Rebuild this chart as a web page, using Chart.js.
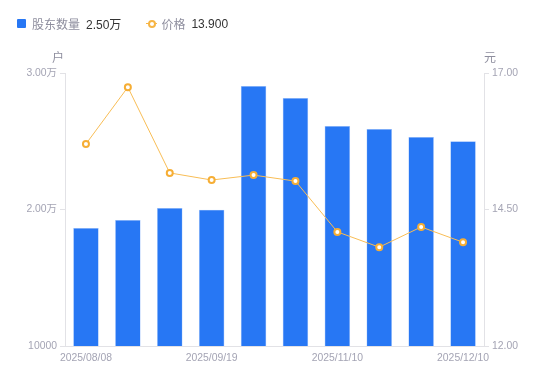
<!DOCTYPE html>
<html>
<head>
<meta charset="utf-8">
<script src="https://cdn.jsdelivr.net/npm/chart.js@4/dist/chart.umd.min.js"></script>
<style>
  html, body { margin: 0; padding: 0; background: #fff; }
  #wrap { position: relative; width: 550px; height: 381px; }
  #legend { position: absolute; left: 17px; top: 15px; font: 12px "Liberation Sans", "Noto Sans CJK SC", sans-serif; color: #8e8e9e; display: flex; align-items: center; }
  #legend .item { display: flex; align-items: center; margin-right: 25px; }
  #legend .val { color: #333; margin-left: 6px; }
  .sq { width: 9px; height: 9px; background: #2777f4; border-radius: 1px; margin-right: 6px; }
  .ln { position: relative; width: 11px; height: 9px; margin-right: 4px; }
  .ln:before { content: ""; position: absolute; left: 0; right: 0; top: 4px; height: 1px; background: #f6b545; }
  .ln:after { content: ""; position: absolute; left: 2px; top: 1px; width: 4px; height: 4px; border: 2px solid #f6b545; border-radius: 50%; background: #fff; }
</style>
</head>
<body>
<div id="wrap">
  <canvas id="chart" width="550" height="381"></canvas>
  <div id="legend">
    <div class="item"><span class="sq"></span>股东数量<span class="val">2.50万</span></div>
    <div class="item"><span class="ln"></span>价格<span class="val">13.900</span></div>
  </div>
</div>
<script>
const dates = ['2025/08/08', '2025/08/22', '2025/09/05', '2025/09/19', '2025/09/30',
               '2025/10/20', '2025/11/10', '2025/11/20', '2025/11/30', '2025/12/10']
const holders = [18650, 19230, 20110, 19990, 29050, 28170, 26120, 25900, 25310, 25000]
const prices = [15.70, 16.74, 15.17, 15.04, 15.13, 15.02, 14.09, 13.81, 14.18, 13.90]
const shownDates = ['2025/08/08', '2025/09/19', '2025/11/10', '2025/12/10']

const tickColor = '#a4a4b4'
const axisColor = '#e2e2e6'
const font = { family: '"Liberation Sans", "Noto Sans CJK SC", sans-serif', size: 10.4 }

const axisTitles = {
    id: 'axisTitles',
    afterDraw(chart) {
        const c = chart.ctx
        c.save()
        c.font = '12px "Noto Sans CJK SC", sans-serif'
        c.fillStyle = '#8e8e9e'
        c.textAlign = 'center'
        c.textBaseline = 'middle'
        c.fillText('户', 58, 57)
        c.fillText('元', 490, 57)
        c.restore()
    }
}

const ctx = document.getElementById('chart').getContext('2d')
new Chart(ctx, {
    data: {
        labels: dates,
        datasets: [{
            type: 'line',
            data: prices,
            yAxisID: 'y1',
            borderColor: '#f8bd55',
            borderWidth: 1,
            pointRadius: 3,
            pointBorderWidth: 2,
            pointBorderColor: '#f6ae35',
            pointBackgroundColor: '#ffffff',
            tension: 0,
            order: 0
        }, {
            type: 'bar',
            data: holders,
            yAxisID: 'y',
            backgroundColor: '#2777f4',
            borderColor: '#a8c8fb',
            borderWidth: 0.6,
            barPercentage: 0.61,
            categoryPercentage: 1,
            order: 1
        }]
    },
    options: {
        responsive: false,
        animation: false,
        layout: { padding: { top: 73, left: 0, right: 0, bottom: 0 } },
        plugins: { legend: { display: false }, tooltip: { enabled: false } },
        scales: {
            x: {
                grid: { display: false, drawTicks: false },
                border: { color: axisColor },
                ticks: {
                    color: tickColor, font: font, padding: 6, autoSkip: false, maxRotation: 0,
                    callback: function(v) {
                        const l = this.getLabelForValue(v)
                        return shownDates.includes(l) ? l : ''
                    }
                },
                afterFit(s) { s.height = 35 }
            },
            y: {
                position: 'left',
                min: 10000, max: 30000,
                grid: { drawOnChartArea: false, tickLength: 5, color: axisColor },
                border: { color: axisColor },
                ticks: {
                    stepSize: 10000, color: tickColor, font: font, padding: 3,
                    callback: v => v >= 20000 ? (v / 10000).toFixed(2) + '万' : String(v)
                },
                afterFit(s) { s.width = 65 }
            },
            y1: {
                position: 'right',
                min: 12, max: 17,
                grid: { drawOnChartArea: false, tickLength: 5, color: axisColor },
                border: { color: axisColor },
                ticks: {
                    stepSize: 2.5, color: tickColor, font: font, padding: 3,
                    callback: v => v.toFixed(2)
                },
                afterFit(s) { s.width = 66 }
            }
        }
    },
    plugins: [axisTitles]
})
</script>
</body>
</html>
